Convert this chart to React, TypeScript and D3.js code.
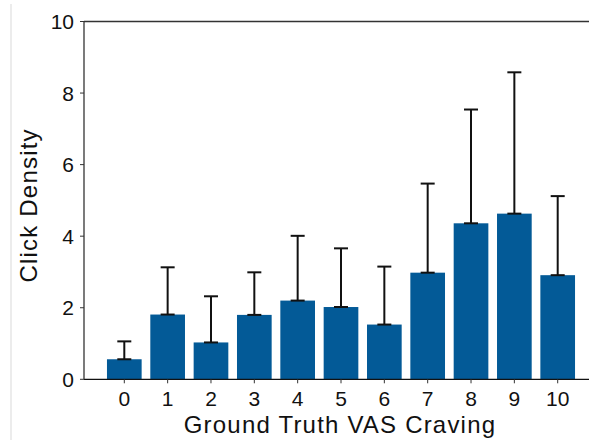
import React from "react";
import * as d3 from "d3";

const categories = [0, 1, 2, 3, 4, 5, 6, 7, 8, 9, 10];
const means = [0.56, 1.81, 1.03, 1.8, 2.2, 2.02, 1.53, 2.98, 4.36, 4.63, 2.91];
const upper = [1.06, 3.13, 2.32, 2.99, 4.01, 3.66, 3.15, 5.47, 7.54, 8.58, 5.12];
const yTicks = [0, 2, 4, 6, 8, 10];

const W = 589;
const H = 440;
const left = 84;
const right = 598;
const top = 21.5;
const bottom = 379.3;

export default function App() {
  const x = d3.scaleLinear().domain([-0.93, 10.93]).range([left, right]);
  const y = d3.scaleLinear().domain([0, 10]).range([bottom, top]);
  const bw = 0.8 * (x(1) - x(0));
  const font = "'Liberation Sans', Arial, sans-serif";
  return (
    <svg width={W} height={H} style={{ position: "absolute", left: 0, top: 0 }}>
      <rect x={0} y={0} width={W} height={H} fill="#fff" />
      <line x1={11} x2={11} y1={4} y2={H} stroke="#d9d9d9" strokeWidth={1} />
      {categories.map((c, i) => (
        <rect key={c} x={x(c) - bw / 2} y={y(means[i])} width={bw} height={y(0) - y(means[i])} fill="#035a97" />
      ))}
      {categories.map((c, i) => (
        <g key={"e" + c} stroke="#111" strokeWidth={2}>
          <line x1={x(c)} x2={x(c)} y1={y(means[i])} y2={y(upper[i])} />
          <line x1={x(c) - 7} x2={x(c) + 7} y1={y(upper[i])} y2={y(upper[i])} />
          <line x1={x(c) - 7} x2={x(c) + 7} y1={y(means[i])} y2={y(means[i])} />
        </g>
      ))}
      <line x1={left} x2={right} y1={top} y2={top} stroke="#333" strokeWidth={1.3} />
      <line x1={left} x2={right} y1={bottom} y2={bottom} stroke="#111" strokeWidth={1.3} />
      <line x1={left} x2={left} y1={top} y2={bottom} stroke="#333" strokeWidth={1.3} />
      {yTicks.map((t) => (
        <g key={"y" + t}>
          <line x1={left - 4} x2={left} y1={y(t)} y2={y(t)} stroke="#333" strokeWidth={1} />
          <text x={left - 10} y={y(t)} dy="0.36em" textAnchor="end" fontFamily={font} fontSize={21} fill="#111">
            {t}
          </text>
        </g>
      ))}
      {categories.map((c) => (
        <g key={"x" + c}>
          <line x1={x(c)} x2={x(c)} y1={bottom} y2={bottom + 4} stroke="#333" strokeWidth={1} />
          <text x={x(c)} y={bottom + 27} textAnchor="middle" fontFamily={font} fontSize={21} fill="#111">
            {c}
          </text>
        </g>
      ))}
      <text x={340} y={433} textAnchor="middle" fontFamily={font} fontSize={24} fill="#111" letterSpacing={1.2}>
        Ground Truth VAS Craving
      </text>
      <text
        transform={`translate(37, ${(top + bottom) / 2 + 5}) rotate(-90)`}
        textAnchor="middle"
        fontFamily={font}
        fontSize={24}
        fill="#111"
        letterSpacing={1.2}
      >
        Click Density
      </text>
    </svg>
  );
}
